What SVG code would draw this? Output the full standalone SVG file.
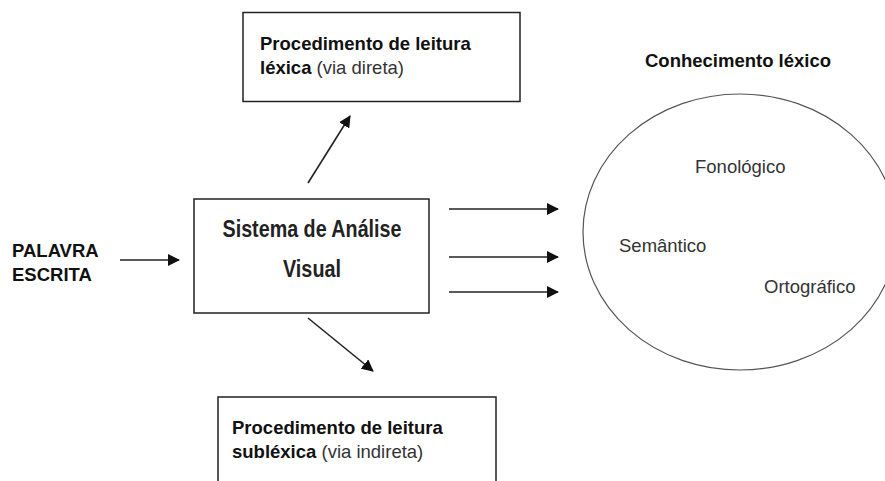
<svg xmlns="http://www.w3.org/2000/svg" width="885" height="481" viewBox="0 0 885 481">
<style>
  .box { fill: #fff; stroke: #222; stroke-width: 1.5; }
  .ell { fill: #fff; stroke: #555; stroke-width: 1.2; }
  .b { font-family: "Liberation Sans", Arial, sans-serif; font-weight: bold; font-size: 18.5px; fill: #111; }
  .r { font-family: "Liberation Sans", Arial, sans-serif; font-size: 18.5px; fill: #333; }
  .rn { font-weight: normal; fill: #333; }
  .n { font-family: "Liberation Sans Narrow", "Liberation Sans", Arial, sans-serif; font-weight: bold; font-size: 24px; fill: #222; }
  .c { fill: none; stroke: #222; stroke-width: 1.6; }
</style>
<defs>
  <marker id="ah" markerWidth="12" markerHeight="12" refX="11" refY="6" orient="auto" markerUnits="userSpaceOnUse">
    <path d="M0,0 L12,6 L0,12 Z" fill="#111"/>
  </marker>
</defs>
<rect width="885" height="481" fill="#fff"/>
<g id="input">
  <text class="b" x="12" y="257">PALAVRA</text>
  <text class="b" x="12" y="281">ESCRITA</text>
</g>
<g id="lexical">
  <rect class="box" x="243" y="12.5" width="277" height="89"/>
  <text class="b" x="260" y="50">Procedimento de leitura</text>
  <text class="b" x="260" y="74">léxica <tspan class="rn">(via direta)</tspan></text>
</g>
<g id="visual">
  <rect class="box" x="194" y="199" width="235" height="114"/>
  <text class="n" x="312" y="237" text-anchor="middle" textLength="179" lengthAdjust="spacingAndGlyphs">Sistema de Análise</text>
  <text class="n" x="312" y="277" text-anchor="middle" textLength="58" lengthAdjust="spacingAndGlyphs">Visual</text>
</g>
<g id="sublexical">
  <rect class="box" x="218" y="397" width="278" height="100"/>
  <text class="b" x="232" y="434">Procedimento de leitura</text>
  <text class="b" x="232" y="458">subléxica <tspan class="rn">(via indireta)</tspan></text>
</g>
<g id="lexicon">
  <text class="b" x="645" y="67">Conhecimento léxico</text>
  <ellipse class="ell" cx="740" cy="232" rx="157" ry="138"/>
  <text class="r" x="695" y="173">Fonológico</text>
  <text class="r" x="619" y="252">Semântico</text>
  <text class="r" x="764" y="293">Ortográfico</text>
</g>
<g id="connectors">
  <line class="c" x1="120" y1="260" x2="179" y2="260" marker-end="url(#ah)"/>
  <line class="c" x1="308" y1="183" x2="350" y2="116" marker-end="url(#ah)"/>
  <line class="c" x1="308" y1="318" x2="373" y2="371" marker-end="url(#ah)"/>
  <line class="c" x1="449" y1="209" x2="558" y2="209" marker-end="url(#ah)"/>
  <line class="c" x1="449" y1="257" x2="558" y2="257" marker-end="url(#ah)"/>
  <line class="c" x1="449" y1="292" x2="558" y2="292" marker-end="url(#ah)"/>
</g>
</svg>
